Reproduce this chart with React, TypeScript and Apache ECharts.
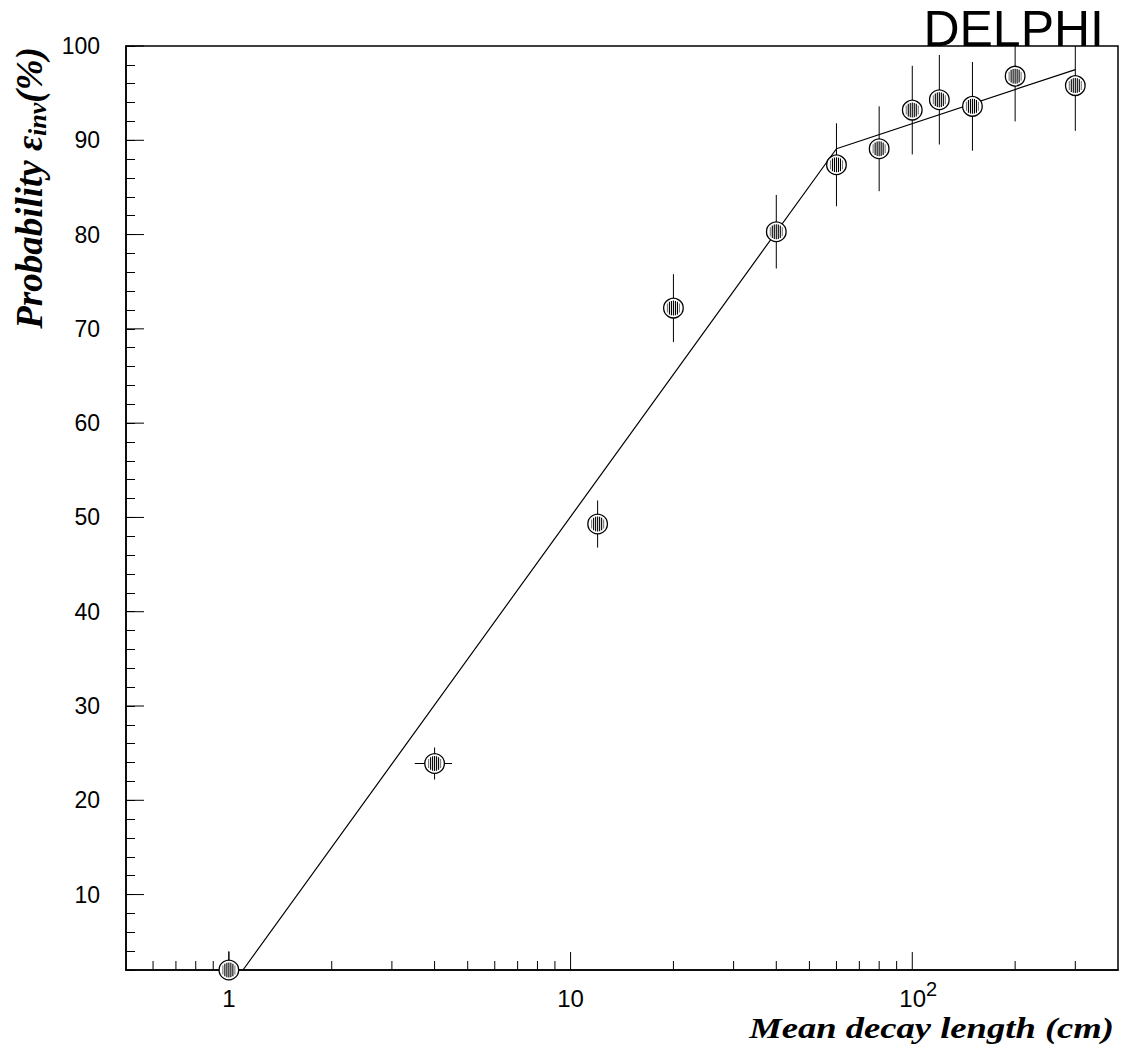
import React, { useEffect, useRef } from 'react';
import * as echarts from 'echarts';

// ---- data ----
const decayLength = [1, 4, 12, 20, 40, 60, 80, 100, 120, 150, 200, 300];
const probability = [2.0, 23.9, 49.3, 72.2, 80.3, 87.4, 89.1, 93.2, 94.3, 93.6, 96.8, 95.8];
const probabilityErr = [2.0, 1.7, 2.5, 3.6, 3.9, 4.4, 4.5, 4.7, 4.75, 4.7, 4.8, 4.8];
const decayLengthErr = [0, 0.5, 0, 0, 0, 0, 0, 0, 0, 0, 0, 0];

const fitX = [1.1, 60, 300];
const fitY = [2.0, 89.1, 97.5];

const xMajorTicks = [1, 10, 100];
const xMinorTicks = [0.6, 0.7, 0.8, 0.9, 2, 3, 4, 5, 6, 7, 8, 9, 20, 30, 40, 50, 60, 70, 80, 90, 200, 300];
const yMajorTicks = [10, 20, 30, 40, 50, 60, 70, 80, 90, 100];

const X_MIN = 0.5;
const X_MAX = 400;
const Y_MIN = 2;
const Y_MAX = 100;

const SANS = '"Liberation Sans", Arial, sans-serif';
const SERIF = '"Liberation Serif", "Times New Roman", serif';

export default function App() {
  const ref = useRef<HTMLDivElement>(null);

  useEffect(() => {
    if (!ref.current) return;
    const chart = echarts.init(ref.current, null, { renderer: 'svg' });

    const pointData = decayLength.map((x, i) => [x, probability[i], probabilityErr[i], decayLengthErr[i]]);
    const fitData = fitX.map((x, i) => [x, fitY[i]]);
    const xTickData = [
      ...xMajorTicks.map((v) => [v, Y_MIN, 18]),
      ...xMinorTicks.map((v) => [v, Y_MIN, 9]),
    ];
    const yTickData = yMajorTicks.map((v) => [X_MIN, v]);

    const option: any = {
      animation: false,
      backgroundColor: '#fff',
      grid: {
        left: 126,
        right: 4,
        top: 46,
        bottom: 88,
        show: true,
        borderColor: '#000',
        borderWidth: 1.5,
        backgroundColor: 'transparent',
      },
      xAxis: {
        type: 'log',
        logBase: 10,
        min: X_MIN,
        max: X_MAX,
        axisLine: { show: true, lineStyle: { color: '#000', width: 1.5 } },
        axisTick: { show: false },
        splitLine: { show: false },
        minorTick: { show: false },
        axisLabel: {
          margin: 9,
          color: '#000',
          showMinLabel: true,
          showMaxLabel: true,
          hideOverlap: false,
          formatter: (v: number) => {
            if (Math.abs(v - 1) < 1e-6) return '{a|1}';
            if (Math.abs(v - 10) < 1e-5) return '{a|10}';
            if (Math.abs(v - 100) < 1e-4) return '{c|10}{b|2}';
            return '';
          },
          rich: {
            a: { fontFamily: SANS, fontSize: 24, lineHeight: 24, padding: [14, 0, 0, 0], color: '#000' },
            c: { fontFamily: SANS, fontSize: 24, lineHeight: 24, padding: [14, 0, 0, 12], color: '#000' },
            b: { fontFamily: SANS, fontSize: 20, lineHeight: 18, verticalAlign: 'top', color: '#000' },
          },
        },
      },
      yAxis: {
        type: 'value',
        min: Y_MIN,
        max: Y_MAX,
        interval: 2,
        axisLine: { show: true, lineStyle: { color: '#000', width: 1.5 } },
        axisTick: { show: true, inside: true, length: 9, lineStyle: { color: '#000', width: 1 } },
        splitLine: { show: false },
        axisLabel: {
          margin: 26,
          color: '#000',
          fontFamily: SANS,
          fontSize: 23,
          formatter: (v: number) => (Math.round(v) % 10 === 0 ? String(Math.round(v)) : ''),
        },
      },
      series: [
        {
          type: 'custom',
          name: 'xticks',
          silent: true,
          clip: false,
          data: xTickData,
          renderItem: (params: any, api: any) => {
            const p = api.coord([api.value(0), api.value(1)]);
            const len = api.value(2);
            return {
              type: 'line',
              shape: { x1: p[0], y1: p[1], x2: p[0], y2: p[1] - len },
              style: { stroke: '#000', lineWidth: 1 },
            };
          },
        },
        {
          type: 'custom',
          name: 'yticks',
          silent: true,
          clip: false,
          data: yTickData,
          renderItem: (params: any, api: any) => {
            const p = api.coord([api.value(0), api.value(1)]);
            return {
              type: 'line',
              shape: { x1: p[0], y1: p[1], x2: p[0] + 18, y2: p[1] },
              style: { stroke: '#000', lineWidth: 1 },
            };
          },
        },
        {
          type: 'line',
          name: 'fit',
          data: fitData,
          showSymbol: false,
          symbol: 'none',
          lineStyle: { color: '#000', width: 1.2 },
          z: 3,
        },
        {
          type: 'custom',
          name: 'data',
          clip: false,
          z: 4,
          data: pointData,
          renderItem: (params: any, api: any) => {
            const x = api.value(0);
            const y = api.value(1);
            const ey = api.value(2);
            const ex = api.value(3);
            const c = api.coord([x, y]);
            const top = api.coord([x, Math.min(y + ey, Y_MAX)]);
            const bot = api.coord([x, Math.max(y - ey, Y_MIN)]);
            const children: any[] = [];
            children.push({
              type: 'line',
              shape: { x1: c[0], y1: top[1], x2: c[0], y2: bot[1] },
              style: { stroke: '#000', lineWidth: 1 },
            });
            if (ex > 0) {
              const l = api.coord([x - ex, y]);
              const r = api.coord([x + ex, y]);
              children.push({
                type: 'line',
                shape: { x1: l[0], y1: c[1], x2: r[0], y2: c[1] },
                style: { stroke: '#000', lineWidth: 1 },
              });
            }
            const R = 9.8;
            children.push({
              type: 'circle',
              shape: { cx: c[0], cy: c[1], r: R },
              style: { fill: '#fff', stroke: '#000', lineWidth: 1.3 },
            });
            const stripes = [-6, -4, -2, 0, 2, 4, 6];
            stripes.forEach((dx) => {
              const h = Math.sqrt(Math.max(0, 7.5 * 7.5 - dx * dx));
              children.push({
                type: 'line',
                shape: { x1: c[0] + dx, y1: c[1] - h, x2: c[0] + dx, y2: c[1] + h },
                style: { stroke: Math.abs(dx) >= 6 ? '#777' : '#000', lineWidth: 1.1 },
              });
            });
            return { type: 'group', children };
          },
        },
      ],
      graphic: [
        {
          type: 'text',
          x: 1104,
          y: 29,
          z: 10,
          style: {
            text: 'DELPHI',
            fontFamily: SANS,
            fontSize: 50,
            fill: '#000',
            align: 'right',
            verticalAlign: 'middle',
          },
        },
        {
          type: 'text',
          x: 1114,
          y: 1028,
          scaleX: 1.22,
          style: {
            text: 'Mean decay length (cm)',
            fontFamily: SERIF,
            fontSize: 30,
            fontWeight: 'bold',
            fontStyle: 'italic',
            fill: '#000',
            align: 'right',
            verticalAlign: 'middle',
          },
        },
        {
          type: 'text',
          x: 30.5,
          y: 188,
          rotation: Math.PI / 2,
          style: {
            text: '{t|Probability ε}{s|inv}{t|(%)}',
            align: 'center',
            verticalAlign: 'middle',
            fill: '#000',
            rich: {
              t: {
                fontFamily: SERIF,
                fontSize: 37,
                fontWeight: 'bold',
                fontStyle: 'italic',
                lineHeight: 40,
                padding: [0, 0, 10, 0],
                verticalAlign: 'top',
                fill: '#000',
              },
              s: {
                fontFamily: SERIF,
                fontSize: 26,
                fontWeight: 'bold',
                fontStyle: 'italic',
                lineHeight: 26,
                verticalAlign: 'bottom',
                fill: '#000',
              },
            },
          },
        },
      ],
    };

    chart.setOption(option);
    return () => chart.dispose();
  }, []);

  return (
    <div
      ref={ref}
      style={{ position: 'absolute', left: 0, top: 0, width: 1122, height: 1058, background: '#fff' }}
    />
  );
}
